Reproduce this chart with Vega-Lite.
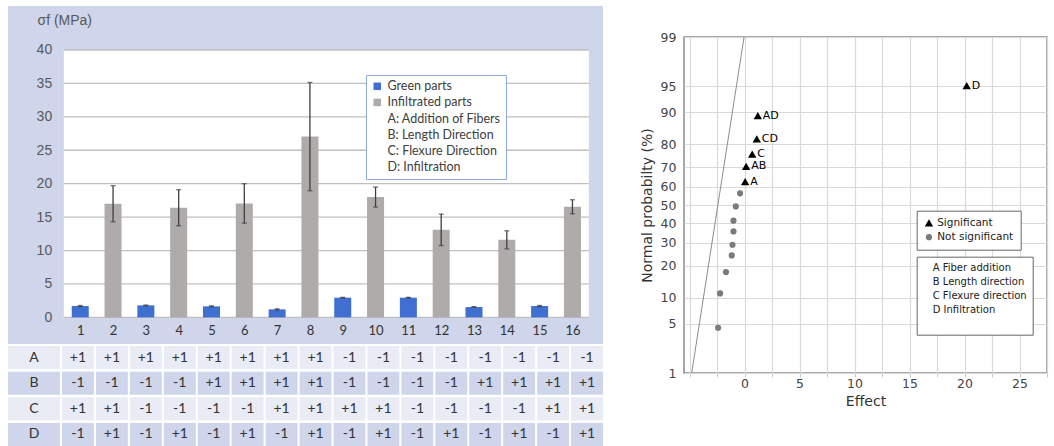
{
  "$schema": "https://vega.github.io/schema/vega-lite/v6.json",
  "padding": {"left": 8, "top": 6, "right": 0, "bottom": 0},
  "background": "white",
  "config": {"view": {"stroke": null}},
  "datasets": {
    "strength": [
      {"run": 1, "type": "Green parts", "strength": 1.7, "sd": 0.08},
      {"run": 2, "type": "Infiltrated parts", "strength": 17.0, "sd": 2.7},
      {"run": 3, "type": "Green parts", "strength": 1.8, "sd": 0.05},
      {"run": 4, "type": "Infiltrated parts", "strength": 16.4, "sd": 2.7},
      {"run": 5, "type": "Green parts", "strength": 1.65, "sd": 0.08},
      {"run": 6, "type": "Infiltrated parts", "strength": 17.05, "sd": 2.95},
      {"run": 7, "type": "Green parts", "strength": 1.2, "sd": 0.08},
      {"run": 8, "type": "Infiltrated parts", "strength": 27.05, "sd": 8.1},
      {"run": 9, "type": "Green parts", "strength": 2.95, "sd": 0.05},
      {"run": 10, "type": "Infiltrated parts", "strength": 18.0, "sd": 1.5},
      {"run": 11, "type": "Green parts", "strength": 2.95, "sd": 0.05},
      {"run": 12, "type": "Infiltrated parts", "strength": 13.1, "sd": 2.35},
      {"run": 13, "type": "Green parts", "strength": 1.55, "sd": 0.05},
      {"run": 14, "type": "Infiltrated parts", "strength": 11.6, "sd": 1.35},
      {"run": 15, "type": "Green parts", "strength": 1.7, "sd": 0.08},
      {"run": 16, "type": "Infiltrated parts", "strength": 16.55, "sd": 1.05}
    ],
    "gridValues": [
      {"gridValue": 0}, {"gridValue": 5}, {"gridValue": 10}, {"gridValue": 15}, {"gridValue": 20},
      {"gridValue": 25}, {"gridValue": 30}, {"gridValue": 35}, {"gridValue": 40}
    ],
    "factors": [{"factor": "A"}, {"factor": "B"}, {"factor": "C"}, {"factor": "D"}],
    "design": [
      {"run": 1, "factor": "A", "level": "+1"}, {"run": 2, "factor": "A", "level": "+1"}, {"run": 3, "factor": "A", "level": "+1"}, {"run": 4, "factor": "A", "level": "+1"},
      {"run": 5, "factor": "A", "level": "+1"}, {"run": 6, "factor": "A", "level": "+1"}, {"run": 7, "factor": "A", "level": "+1"}, {"run": 8, "factor": "A", "level": "+1"},
      {"run": 9, "factor": "A", "level": "-1"}, {"run": 10, "factor": "A", "level": "-1"}, {"run": 11, "factor": "A", "level": "-1"}, {"run": 12, "factor": "A", "level": "-1"},
      {"run": 13, "factor": "A", "level": "-1"}, {"run": 14, "factor": "A", "level": "-1"}, {"run": 15, "factor": "A", "level": "-1"}, {"run": 16, "factor": "A", "level": "-1"},
      {"run": 1, "factor": "B", "level": "-1"}, {"run": 2, "factor": "B", "level": "-1"}, {"run": 3, "factor": "B", "level": "-1"}, {"run": 4, "factor": "B", "level": "-1"},
      {"run": 5, "factor": "B", "level": "+1"}, {"run": 6, "factor": "B", "level": "+1"}, {"run": 7, "factor": "B", "level": "+1"}, {"run": 8, "factor": "B", "level": "+1"},
      {"run": 9, "factor": "B", "level": "-1"}, {"run": 10, "factor": "B", "level": "-1"}, {"run": 11, "factor": "B", "level": "-1"}, {"run": 12, "factor": "B", "level": "-1"},
      {"run": 13, "factor": "B", "level": "+1"}, {"run": 14, "factor": "B", "level": "+1"}, {"run": 15, "factor": "B", "level": "+1"}, {"run": 16, "factor": "B", "level": "+1"},
      {"run": 1, "factor": "C", "level": "+1"}, {"run": 2, "factor": "C", "level": "+1"}, {"run": 3, "factor": "C", "level": "-1"}, {"run": 4, "factor": "C", "level": "-1"},
      {"run": 5, "factor": "C", "level": "-1"}, {"run": 6, "factor": "C", "level": "-1"}, {"run": 7, "factor": "C", "level": "+1"}, {"run": 8, "factor": "C", "level": "+1"},
      {"run": 9, "factor": "C", "level": "+1"}, {"run": 10, "factor": "C", "level": "+1"}, {"run": 11, "factor": "C", "level": "-1"}, {"run": 12, "factor": "C", "level": "-1"},
      {"run": 13, "factor": "C", "level": "-1"}, {"run": 14, "factor": "C", "level": "-1"}, {"run": 15, "factor": "C", "level": "+1"}, {"run": 16, "factor": "C", "level": "+1"},
      {"run": 1, "factor": "D", "level": "-1"}, {"run": 2, "factor": "D", "level": "+1"}, {"run": 3, "factor": "D", "level": "-1"}, {"run": 4, "factor": "D", "level": "+1"},
      {"run": 5, "factor": "D", "level": "-1"}, {"run": 6, "factor": "D", "level": "+1"}, {"run": 7, "factor": "D", "level": "-1"}, {"run": 8, "factor": "D", "level": "+1"},
      {"run": 9, "factor": "D", "level": "-1"}, {"run": 10, "factor": "D", "level": "+1"}, {"run": 11, "factor": "D", "level": "-1"}, {"run": 12, "factor": "D", "level": "+1"},
      {"run": 13, "factor": "D", "level": "-1"}, {"run": 14, "factor": "D", "level": "+1"}, {"run": 15, "factor": "D", "level": "-1"}, {"run": 16, "factor": "D", "level": "+1"}
    ],
    "effects": [
      {"term": "D", "effect": 20.2, "normalScore": 1.652, "significance": "Significant"},
      {"term": "AD", "effect": 1.21, "normalScore": 1.236, "significance": "Significant"},
      {"term": "CD", "effect": 1.12, "normalScore": 0.914, "significance": "Significant"},
      {"term": "C", "effect": 0.7, "normalScore": 0.706, "significance": "Significant"},
      {"term": "AB", "effect": 0.15, "normalScore": 0.535, "significance": "Significant"},
      {"term": "A", "effect": 0.06, "normalScore": 0.323, "significance": "Significant"},
      {"effect": -0.4, "normalScore": 0.161, "significance": "Not significant"},
      {"effect": -0.79, "normalScore": -0.02, "significance": "Not significant"},
      {"effect": -1.0, "normalScore": -0.217, "significance": "Not significant"},
      {"effect": -1.0, "normalScore": -0.366, "significance": "Not significant"},
      {"effect": -1.09, "normalScore": -0.55, "significance": "Not significant"},
      {"effect": -1.16, "normalScore": -0.698, "significance": "Not significant"},
      {"effect": -1.68, "normalScore": -0.928, "significance": "Not significant"},
      {"effect": -2.22, "normalScore": -1.224, "significance": "Not significant"},
      {"effect": -2.4, "normalScore": -1.7, "significance": "Not significant"}
    ],
    "refline": [
      {"effect": -4.8, "normalScore": -2.3263},
      {"effect": -0.04, "normalScore": 2.3263}
    ],
    "factorNames": [
      {"factorName": "A Fiber addition"},
      {"factorName": "B Length direction"},
      {"factorName": "C Flexure direction"},
      {"factorName": "D Infiltration"}
    ]
  },
  "resolve": {
    "scale": {"color": "independent", "shape": "independent", "strokeDash": "independent", "size": "independent"}
  },
  "spacing": 36,
  "hconcat": [
    {
      "spacing": 2,
      "resolve": {"scale": {"color": "independent"}},
      "vconcat": [
        {
          "width": 595,
          "height": 338,
          "view": {"fill": "#cfd5ea", "stroke": null},
          "layer": [
            {
              "data": {"values": [{"panel": "plot"}]},
              "mark": {"type": "rect", "fill": "white"},
              "encoding": {
                "x": {"datum": 0.5, "type": "quantitative"},
                "x2": {"datum": 16.5},
                "y": {"datum": 0, "type": "quantitative"},
                "y2": {"datum": 40}
              }
            },
            {
              "data": {"name": "gridValues"},
              "mark": {"type": "rule", "color": "#bfbfbf", "strokeWidth": 1.3},
              "encoding": {
                "y": {"field": "gridValue", "type": "quantitative", "title": "σf (MPa)"},
                "x": {"datum": 0.5, "type": "quantitative"},
                "x2": {"datum": 16.5}
              }
            },
            {
              "data": {"name": "strength"},
              "mark": {"type": "bar", "size": 17},
              "encoding": {
                "x": {
                  "field": "run", "type": "quantitative", "title": null,
                  "scale": {"domain": [-1.049, 16.779], "nice": false, "zero": false},
                  "axis": {
                    "values": [1, 2, 3, 4, 5, 6, 7, 8, 9, 10, 11, 12, 13, 14, 15, 16], "tickCount": 100,
                    "format": "d", "offset": -26.6, "domain": false, "ticks": false, "grid": false,
                    "labelPadding": 7, "labelFont": "Lato", "labelFontSize": 13, "labelColor": "#333333",
                    "labelFlush": false, "labelOverlap": false, "title": null
                  }
                },
                "y": {
                  "field": "strength", "type": "quantitative", "title": "σf (MPa)",
                  "scale": {"domain": [-3.98, 46.58], "nice": false, "zero": false},
                  "axis": {
                    "values": [0, 5, 10, 15, 20, 25, 30, 35, 40], "tickCount": 100, "format": "d",
                    "offset": -51.7, "domain": false, "ticks": false, "grid": false,
                    "labelPadding": 8, "labelFont": "Liberation Sans", "labelFontSize": 14, "labelColor": "#595959",
                    "labelFlush": false, "labelOverlap": false,
                    "title": "σf (MPa)", "titleAngle": 0, "titleAlign": "left", "titleBaseline": "middle",
                    "titleX": -22.7, "titleY": 14, "titleFont": "Liberation Sans", "titleFontSize": 14,
                    "titleFontWeight": "normal", "titleColor": "#595959"
                  }
                },
                "color": {
                  "field": "type", "type": "nominal",
                  "scale": {
                    "domain": ["Green parts", "Infiltrated parts", "A: Addition of Fibers", "B: Length Direction", "C: Flexure Direction", "D: Infiltration"],
                    "range": ["#3f6fd1", "#afabab", "transparent", "transparent", "transparent", "transparent"]
                  },
                  "legend": {
                    "orient": "none", "legendX": 358, "legendY": 69, "title": null,
                    "padding": 5, "strokeColor": "#8faadc", "fillColor": "white",
                    "labelFont": "Lato", "labelFontSize": 12.5, "labelColor": "#404040", "labelLimit": 300,
                    "symbolType": "square", "symbolSize": 56, "symbolStrokeWidth": 0,
                    "rowPadding": 3.2, "labelOffset": 4
                  }
                }
              }
            },
            {
              "data": {"name": "strength"},
              "mark": {"type": "errorbar", "color": "#3f3f3f", "thickness": 1.3, "ticks": {"size": 5, "color": "#3f3f3f"}},
              "encoding": {
                "x": {"field": "run", "type": "quantitative", "title": null},
                "y": {"field": "strength", "type": "quantitative", "title": "σf (MPa)"},
                "yError": {"field": "sd"}
              }
            }
          ]
        },
        {
          "spacing": 2,
          "hconcat": [
            {
              "width": 52,
              "height": 100,
              "data": {"name": "factors"},
              "encoding": {
                "y": {"field": "factor", "type": "nominal", "scale": {"paddingInner": 0.1, "paddingOuter": 0}, "axis": null}
              },
              "layer": [
                {
                  "mark": "rect",
                  "encoding": {
                    "color": {"field": "factor", "type": "nominal", "scale": {"domain": ["A", "B", "C", "D"], "range": ["#e9ebf5", "#cfd5ea", "#e9ebf5", "#cfd5ea"]}, "legend": null}
                  }
                },
                {
                  "mark": {"type": "text", "font": "Lato", "fontSize": 14, "color": "#333333"},
                  "encoding": {"text": {"field": "factor"}}
                }
              ]
            },
            {
              "width": 541,
              "height": 100,
              "data": {"name": "design"},
              "encoding": {
                "x": {"field": "run", "type": "ordinal", "scale": {"paddingInner": 0.06, "paddingOuter": 0}, "axis": null},
                "y": {"field": "factor", "type": "nominal", "scale": {"paddingInner": 0.1, "paddingOuter": 0}, "axis": null}
              },
              "layer": [
                {
                  "mark": "rect",
                  "encoding": {
                    "color": {"field": "factor", "type": "nominal", "scale": {"domain": ["A", "B", "C", "D"], "range": ["#e9ebf5", "#cfd5ea", "#e9ebf5", "#cfd5ea"]}, "legend": null}
                  }
                },
                {
                  "mark": {"type": "text", "font": "Lato", "fontSize": 14, "color": "#333333"},
                  "encoding": {"text": {"field": "level"}}
                }
              ]
            }
          ]
        }
      ]
    },
    {
      "spacing": 0,
      "resolve": {
        "scale": {"color": "independent", "shape": "independent", "strokeDash": "independent", "size": "independent"}
      },
      "vconcat": [
        {
          "width": 363,
          "height": 24,
          "data": {"values": []},
          "mark": "point"
        },
        {
          "width": 363,
          "height": 336,
          "view": {"stroke": "#8c8c8c", "strokeWidth": 1.5},
          "layer": [
            {
              "data": {"name": "refline"},
              "mark": {"type": "line", "color": "#8c8c8c", "strokeWidth": 1},
              "encoding": {
                "x": {
                  "field": "effect", "type": "quantitative", "title": "Effect",
                  "scale": {"domain": [-5.5, 27.5], "nice": false, "zero": false},
                  "axis": {
                    "values": [-5, -2.5, 0, 2.5, 5, 7.5, 10, 12.5, 15, 17.5, 20, 22.5, 25, 27.5], "tickCount": 100,
                    "format": "d",
                    "labelExpr": "datum.value >= 0 && datum.value % 5 == 0 ? datum.label : ''",
                    "grid": true, "gridColor": "#d9d9d9", "gridWidth": 1.2, "domain": false,
                    "ticks": true, "tickSize": 4, "tickColor": "#cccccc",
                    "labelPadding": 0, "labelFont": "DejaVu Sans", "labelFontSize": 12.5, "labelColor": "#444444",
                    "labelFlush": false, "labelOverlap": false,
                    "title": "Effect", "titleFont": "DejaVu Sans", "titleFontSize": 14, "titleFontWeight": "normal",
                    "titleColor": "#333333", "titlePadding": 5
                  }
                },
                "y": {
                  "field": "normalScore", "type": "quantitative", "title": "Normal probabilty (%)",
                  "scale": {"domain": [-2.3263, 2.3263], "nice": false, "zero": false},
                  "axis": {
                    "values": [-2.3263, -1.6449, -1.2816, -0.8416, -0.5244, -0.2533, 0, 0.2533, 0.5244, 0.8416, 1.2816, 1.6449, 2.3263], "tickCount": 100,
                    "labelExpr": "format(cumulativeNormal(datum.value) * 100, '.0f')",
                    "grid": true, "gridColor": "#d9d9d9", "gridWidth": 1.2, "domain": false, "ticks": false,
                    "labelPadding": 8, "labelFont": "DejaVu Sans", "labelFontSize": 12.5, "labelColor": "#444444",
                    "labelFlush": false, "labelOverlap": false,
                    "title": "Normal probabilty (%)", "titleFont": "DejaVu Sans", "titleFontSize": 14, "titleFontWeight": "normal",
                    "titleColor": "#333333", "titlePadding": 6
                  }
                }
              }
            },
            {
              "data": {"name": "effects"},
              "mark": {"type": "point", "filled": true, "opacity": 1},
              "encoding": {
                "x": {"field": "effect", "type": "quantitative", "title": "Effect"},
                "y": {"field": "normalScore", "type": "quantitative", "title": "Normal probabilty (%)"},
                "shape": {
                  "field": "significance", "type": "nominal",
                  "scale": {"domain": ["Significant", "Not significant"], "range": ["triangle-up", "circle"]},
                  "legend": {
                    "orient": "none", "legendX": 232.7, "legendY": 173.7, "title": null,
                    "padding": 7, "strokeColor": "#666666", "fillColor": "white",
                    "labelFont": "DejaVu Sans", "labelFontSize": 10.5, "labelColor": "#222222",
                    "symbolSize": 50, "rowPadding": 3.2, "labelOffset": 3
                  }
                },
                "color": {
                  "field": "significance", "type": "nominal",
                  "scale": {"domain": ["Significant", "Not significant"], "range": ["#000000", "#7a7a7a"]},
                  "legend": {
                    "orient": "none", "legendX": 232.7, "legendY": 173.7, "title": null,
                    "padding": 7, "strokeColor": "#666666", "fillColor": "white",
                    "labelFont": "DejaVu Sans", "labelFontSize": 10.5, "labelColor": "#222222",
                    "symbolSize": 50, "rowPadding": 3.2, "labelOffset": 3
                  }
                },
                "size": {
                  "field": "significance", "type": "nominal",
                  "scale": {"domain": ["Significant", "Not significant"], "range": [70, 38]},
                  "legend": null
                }
              }
            },
            {
              "data": {"name": "effects"},
              "transform": [{"filter": "datum.significance == 'Significant'"}],
              "mark": {"type": "text", "align": "left", "baseline": "middle", "dx": 5, "font": "DejaVu Sans", "fontSize": 11, "color": "#000000"},
              "encoding": {
                "x": {"field": "effect", "type": "quantitative", "title": "Effect"},
                "y": {"field": "normalScore", "type": "quantitative", "title": "Normal probabilty (%)"},
                "text": {"field": "term"}
              }
            },
            {
              "data": {"name": "factorNames"},
              "mark": {"type": "point", "opacity": 0},
              "encoding": {
                "strokeDash": {
                  "field": "factorName", "type": "nominal",
                  "scale": {"domain": ["A Fiber addition", "B Length direction", "C Flexure direction", "D Infiltration", " "]},
                  "legend": {
                    "orient": "none", "legendX": 232.7, "legendY": 219.7, "title": null,
                    "padding": 6, "strokeColor": "#666666", "fillColor": "white",
                    "labelFont": "DejaVu Sans", "labelFontSize": 10, "labelColor": "#222222",
                    "symbolSize": 0, "symbolOpacity": 0, "symbolStrokeWidth": 0, "labelOffset": 0, "rowPadding": 4
                  }
                }
              }
            }
          ]
        }
      ]
    }
  ]
}
